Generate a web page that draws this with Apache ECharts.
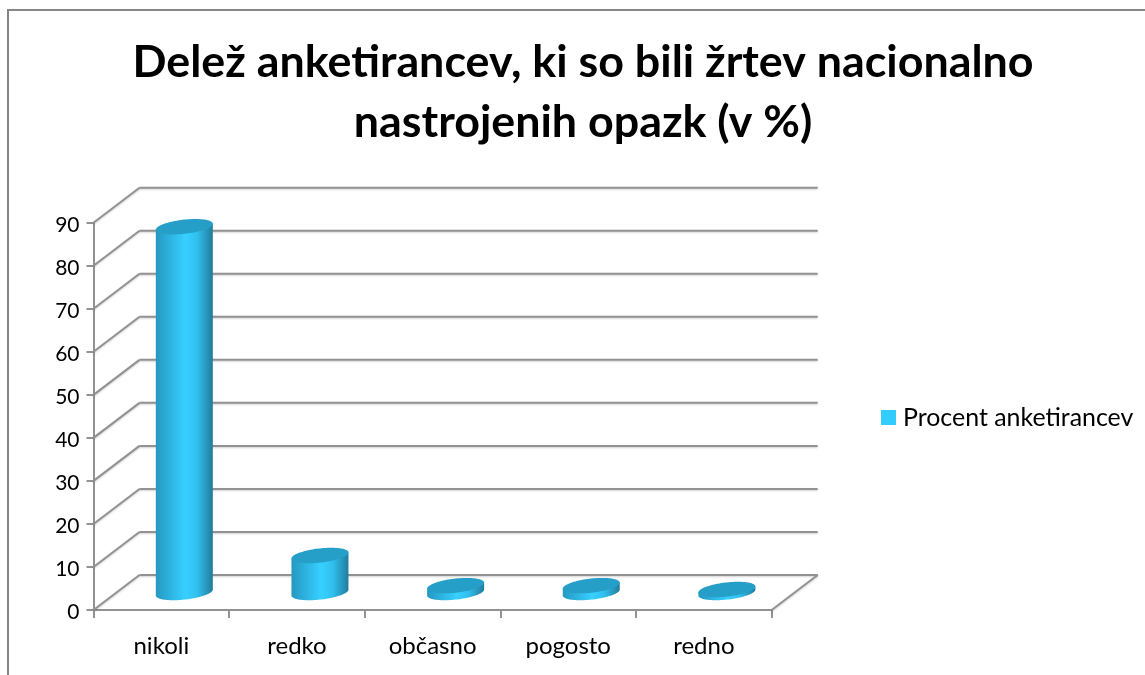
<!DOCTYPE html>
<html><head><meta charset="utf-8">
<style>html,body{margin:0;padding:0;background:#fff}#c{width:1145px;height:675px}</style>
<script src="https://cdn.jsdelivr.net/npm/echarts@6/dist/echarts.min.js"></script>
</head><body><div id="c"></div>
<script>
const titleText = 'Delež anketirancev, ki so bili žrtev nacionalno\nnastrojenih opazk (v %)';
const seriesName = 'Procent anketirancev';
const categories = ['nikoli', 'redko', 'občasno', 'pogosto', 'redno'];
const values = [85, 8.6, 1.6, 1.6, 0.7];
const yTicks = [0, 10, 20, 30, 40, 50, 60, 70, 80, 90];

// 3D look
const DX = 46, DY = -35;        // wall depth
const BX = 23, BY = -17.5;      // bar position within the depth
const RX = 28.5, RY = 7.1, SK = 3; // ellipse radii + tilt
const GRID = '#929292';
const lineStyle = {stroke: GRID, lineWidth: 2, shadowColor: 'rgba(0,0,0,0.18)', shadowBlur: 2, shadowOffsetY: 1};

function ell(cx, cy, t) { return [cx + RX * Math.cos(t), cy + RY * Math.sin(t) - SK * Math.cos(t)]; }

function renderWall(params, api) {
  const v = api.value(0);
  const front = api.coord([0, v]);
  const x0 = params.coordSys.x, x1 = x0 + params.coordSys.width;
  const children = [
    {type: 'line', shape: {x1: x0, y1: front[1], x2: x0 + DX, y2: front[1] + DY}, style: lineStyle},
    {type: 'line', shape: {x1: x0 + DX, y1: front[1] + DY, x2: x1 + DX, y2: front[1] + DY}, style: lineStyle}
  ];
  if (v === 0) children.push({type: 'line', shape: {x1: x1, y1: front[1], x2: x1 + DX, y2: front[1] + DY}, style: lineStyle});
  return {type: 'group', children};
}

function renderBar(params, api) {
  const base = api.coord([api.value(0), 0]);
  const top = api.coord([api.value(0), api.value(1)]);
  const cx = base[0] + BX, by = base[1] + BY, ty = top[1] + BY;
  const side = [], cap = [];
  const N = 48;
  for (let i = 0; i <= N; i++) side.push(ell(cx, by, Math.PI * i / N));
  side.push(ell(cx, ty, Math.PI));
  side.push(ell(cx, ty, 0));
  for (let i = 0; i < N * 2; i++) cap.push(ell(cx, ty, Math.PI * i / N));
  return {type: 'group', children: [
    {type: 'polygon', shape: {points: side}, style: {fill: {
      type: 'linear', x: 0, y: 0, x2: 1, y2: 0, colorStops: [
        {offset: 0, color: '#2598c0'}, {offset: 0.15, color: '#2aa8d4'},
        {offset: 0.52, color: '#36d0ff'}, {offset: 0.72, color: '#31c0ee'},
        {offset: 0.92, color: '#2690b5'}, {offset: 1, color: '#1f7c9c'}]}}},
    {type: 'polygon', shape: {points: cap}, style: {fill: '#259ec8'}}
  ]};
}

const chart = echarts.init(document.getElementById('c'), null, {renderer: 'canvas'});
chart.setOption({
  animation: false,
  backgroundColor: '#fff',
  textStyle: {fontFamily: 'Lato'},
  title: {text: titleText, left: 578, top: 28, textAlign: 'center',
    textStyle: {fontFamily: 'Lato', fontWeight: 'bold', fontSize: 44.8, lineHeight: 60, color: '#000'}},
  legend: {left: 876, top: 400, itemWidth: 15, itemHeight: 15, itemGap: 0, icon: 'rect',
    data: [{name: seriesName, itemStyle: {color: '#33ccff'}}],
    textStyle: {fontFamily: 'Lato', fontSize: 24.9, color: '#000', padding: [0, 0, 0, 2]}},
  grid: {left: 93.5, top: 222.7, width: 678.2, height: 387.3},
  xAxis: {type: 'category', data: categories, boundaryGap: true,
    axisLine: {lineStyle: {color: GRID, width: 2}},
    axisTick: {show: true, alignWithLabel: false, length: 8, lineStyle: {color: GRID, width: 2}},
    axisLabel: {margin: 24, fontSize: 24, color: '#000', fontFamily: 'Lato'}},
  yAxis: {type: 'value', min: 0, max: 90, interval: 10,
    axisLine: {show: true, lineStyle: {color: GRID, width: 2}},
    axisTick: {show: true, length: 7, lineStyle: {color: GRID, width: 2}},
    splitLine: {show: false},
    axisLabel: {margin: 14, fontSize: 21, color: '#000', fontFamily: 'Lato', verticalAlign: 'top', lineHeight: 5}},
  graphic: [
    {type: 'rect', shape: {x: 7, y: 9, width: 1138, height: 2}, style: {fill: '#868686'}},
    {type: 'rect', shape: {x: 7, y: 9, width: 2, height: 666}, style: {fill: '#868686'}}
  ],
  series: [
    {type: 'custom', silent: true, clip: false, z: 1, renderItem: renderWall, data: yTicks.map(v => [v]),
     encode: {y: 0}, legendHoverLink: false, name: '_wall'},
    {type: 'custom', name: seriesName, clip: false, z: 3, renderItem: renderBar,
     itemStyle: {color: '#33ccff'},
     data: values.map((v, i) => [i, v]), encode: {x: 0, y: 1}}
  ]
});
</script></body></html>
